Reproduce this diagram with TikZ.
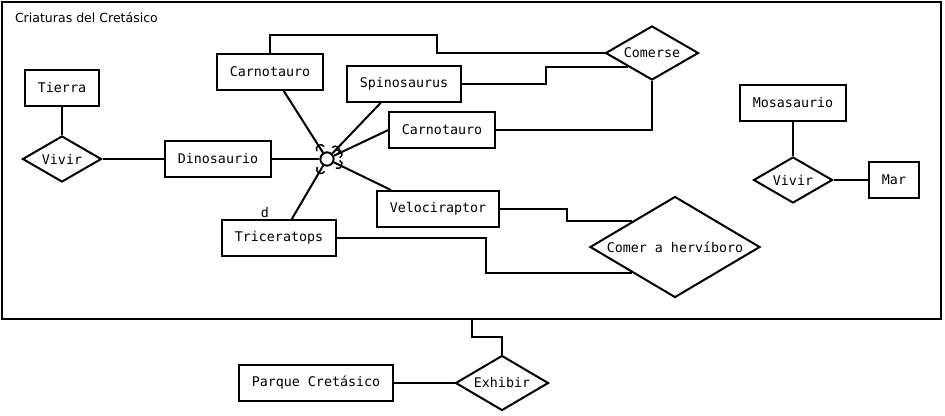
\documentclass[tikz,border=0pt]{standalone}
\usepackage{fontspec}
\setmonofont{DejaVu Sans Mono}
\setsansfont{DejaVu Sans}
\usetikzlibrary{shapes,positioning,calc}

\begin{document}
\begin{tikzpicture}[
    x=0.75pt, y=-0.75pt,
    line width=1.5pt,
    entity node/.style={rectangle,draw,inner xsep=9.4pt,minimum height=27pt,font=\ttfamily},
    relation node/.style={diamond,draw,aspect=1.7,inner sep=0pt,font=\ttfamily},
    isa node/.style={circle,draw,inner sep=0pt,minimum size=10pt}
]
\useasboundingbox (0,0) rectangle (945,415);

% Container
\node[draw,rectangle,inner sep=0pt,minimum width=704.25pt,minimum height=237.75pt] (frame) at (471.5,160.5) {};
\node[anchor=west,font=\sffamily\fontsize{9.4}{11}\selectfont,inner sep=0pt] (title) at (14,18) {Criaturas del Cretásico};

% Entities
\node[entity node] (tierra) at (62,88) {Tierra};
\node[entity node] (dino) at (218,159) {Dinosaurio};
\node[entity node] (carnoA) at (270,72) {Carnotauro};
\node[entity node] (spino) at (404,84) {Spinosaurus};
\node[entity node] (carnoB) at (442,130) {Carnotauro};
\node[entity node] (velo) at (438,209) {Velociraptor};
\node[entity node] (trice) at (279,238) {Triceratops};
\node[entity node] (mosa) at (793,103) {Mosasaurio};
\node[entity node] (mar) at (894,180) {Mar};
\node[entity node] (parque) at (316,383) {Parque Cretásico};

% Relations
\node[relation node,minimum width=59.25pt,minimum height=34.5pt] (vivirA) at (62,159) {Vivir};
\node[relation node,minimum width=69.75pt,minimum height=40.5pt] (comerse) at (652,53) {Comerse};
\node[relation node,minimum width=127.5pt,minimum height=75.75pt] (comer) at (675,247) {Comer a hervíboro};
\node[relation node,minimum width=59.25pt,minimum height=34.5pt] (vivirB) at (793,180) {Vivir};
\node[relation node,minimum width=69.75pt,minimum height=41.25pt] (exhibir) at (502,383) {Exhibir};

% Specialisation
\node[isa node] (isa) at (327,159) {};
\node[font=\ttfamily,inner sep=0pt] (disj) at (265,213) {d};

% Lines
\draw (tierra) -- (vivirA);
\draw (vivirA) -- (dino);
\draw (dino) -- (isa);
\draw (carnoA.-54) -- (isa);
\draw (spino.219) -- (isa);
\draw (carnoB.west) -- (isa);
\draw (velo.158) -- (isa);
\draw (trice.56) -- (isa);

\foreach \ang in {122.5,46,24.7,-25.9,-120.5}
    \draw[line width=1.1pt] ($(isa)+(\ang:9pt)+(\ang-90:3.2pt)$) arc[start angle=\ang-90,end angle=\ang+90,radius=3.2pt];

\draw (carnoA.north) |- (437,35) |- (comerse.west);
\draw (spino.east) -- ++(84,0) |- (comerse.south west);
\draw (carnoB.east) -| (comerse.south);
\draw (velo.east) -- ++(67,0) |- (comer.north west);
\draw (trice.east) -- ++(149,0) |- (comer.south west);

\draw (mosa) -- (vivirB);
\draw (vivirB) -- (mar);

\draw (frame.south) -- ++(0,17) -| (exhibir.north);
\draw (parque) -- (exhibir);

\end{tikzpicture}
\end{document}
